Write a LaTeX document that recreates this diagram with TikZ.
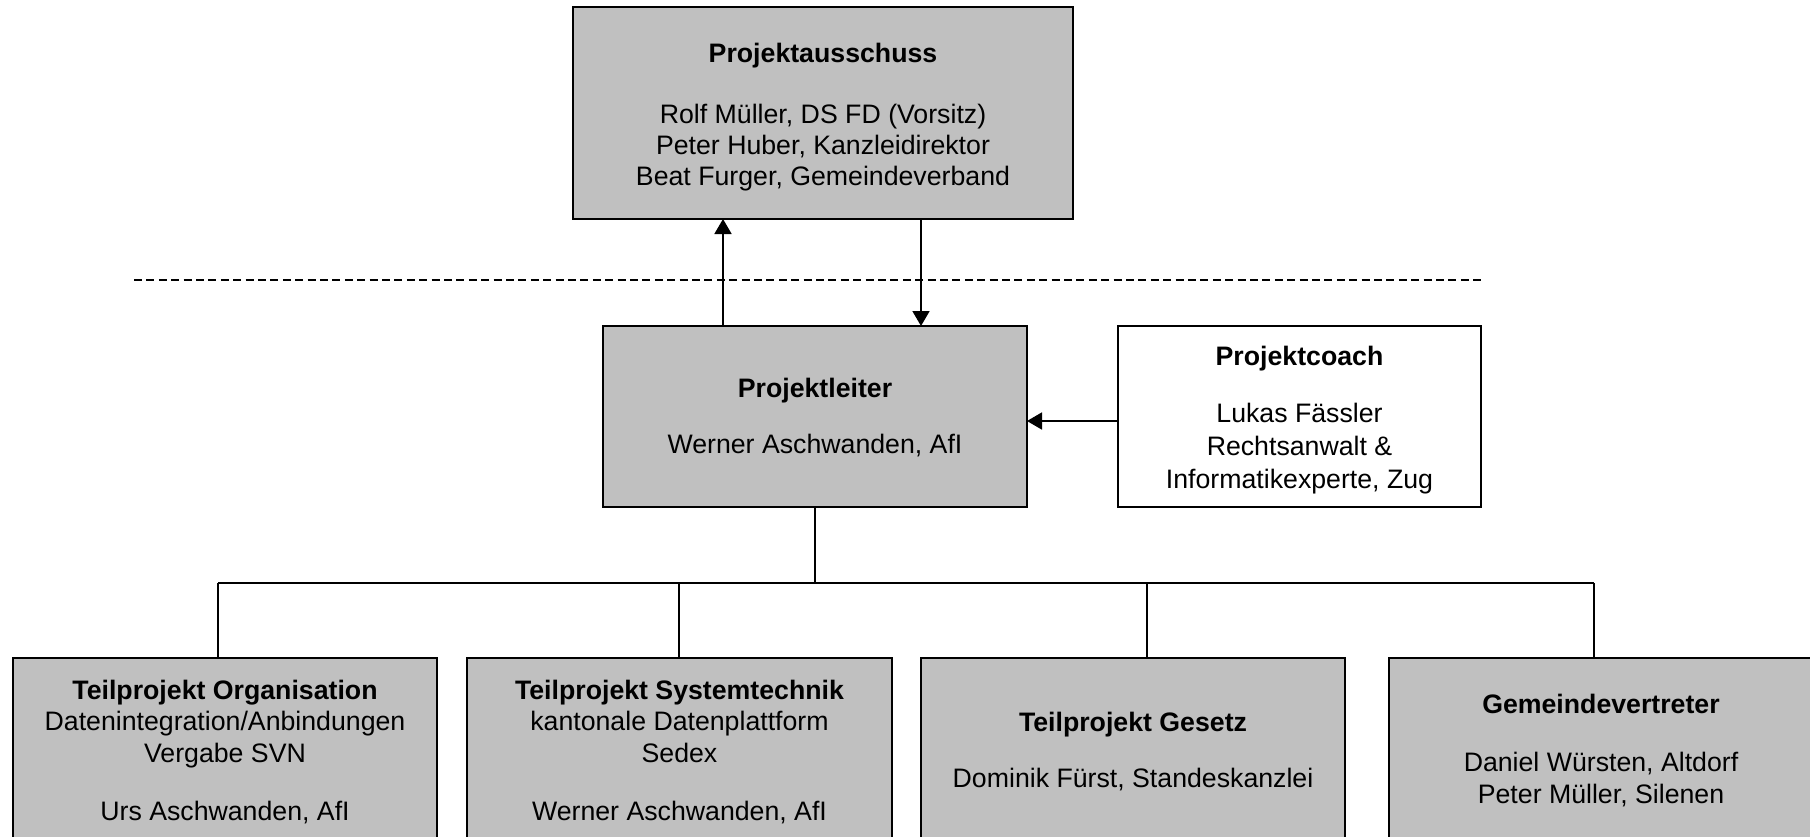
\documentclass[tikz,border=0pt]{standalone}
\usepackage{fontspec}
\setmainfont{Liberation Sans}
\usetikzlibrary{arrows.meta,calc}
\definecolor{boxgray}{HTML}{C0C0C0}
\begin{document}
\begin{tikzpicture}[x=0.5pt,y=-0.5pt,
  orgbox/.style={draw=black, line width=1.1pt, fill=boxgray, inner sep=0pt, outer sep=0pt, rectangle},
  whitebox/.style={orgbox, fill=white},
  txt/.style={anchor=base, inner sep=0pt, font=\fontsize{13.35pt}{15.5pt}\selectfont},
  ttl/.style={txt, font=\fontsize{13.35pt}{15.5pt}\selectfont\bfseries},
  conn/.style={draw=black, line width=0.9pt},
  busline/.style={draw=black, line width=1.2pt},
  arr/.style={conn, -{Triangle[width=8.5pt,length=7.5pt]}},
  sep/.style={draw=black, line width=0.8pt, dash pattern=on 4pt off 2.2pt}
]
\useasboundingbox (0,0) rectangle (1810,836);
\clip (0,0) rectangle (1810,836);

% boxes
\node[orgbox, minimum width=250pt, minimum height=106pt] (pa) at (823,113) {};
\node[orgbox, minimum width=212pt, minimum height=90.5pt] (pl) at (815,416.5) {};
\node[whitebox, minimum width=181.5pt, minimum height=90.5pt] (pc) at (1299.5,416.5) {};
\node[orgbox, minimum width=212pt, minimum height=121pt] (b1) at (225,779) {};
\node[orgbox, minimum width=212.5pt, minimum height=121pt] (b2) at (679.5,779) {};
\node[orgbox, minimum width=212pt, minimum height=121pt] (b3) at (1133,779) {};
\node[orgbox, minimum width=212pt, minimum height=121pt] (b4) at (1601,779) {};

% texts: Projektausschuss
\node[ttl] (pat) at (823,62) {Projektausschuss};
\node[txt] (pa1) at (823,123) {Rolf Müller, DS FD (Vorsitz)};
\node[txt] (pa2) at (823,154) {Peter Huber, Kanzleidirektor};
\node[txt] (pa3) at (823,185) {Beat Furger, Gemeindeverband};

% Projektleiter
\node[ttl] (plt) at (815,397) {Projektleiter};
\node[txt] (pl1) at (815,453) {Werner Aschwanden, AfI};

% Projektcoach
\node[ttl] (pct) at (1299.5,365) {Projektcoach};
\node[txt] (pc1) at (1299.5,422) {Lukas Fässler};
\node[txt] (pc2) at (1299.5,455) {Rechtsanwalt \&};
\node[txt] (pc3) at (1299.5,488) {Informatikexperte, Zug};

% Teilprojekt Organisation
\node[ttl] (b1t) at (225,699) {Teilprojekt Organisation};
\node[txt] (b11) at (225,730) {Datenintegration/Anbindungen};
\node[txt] (b12) at (225,762) {Vergabe SVN};
\node[txt] (b13) at (225,820) {Urs Aschwanden, AfI};

% Teilprojekt Systemtechnik
\node[ttl] (b2t) at (679.5,699) {Teilprojekt Systemtechnik};
\node[txt] (b21) at (679.5,730) {kantonale Datenplattform};
\node[txt] (b22) at (679.5,762) {Sedex};
\node[txt] (b23) at (679.5,820) {Werner Aschwanden, AfI};

% Teilprojekt Gesetz
\node[ttl] (b3t) at (1133,731) {Teilprojekt Gesetz};
\node[txt] (b31) at (1133,787) {Dominik Fürst, Standeskanzlei};

% Gemeindevertreter
\node[ttl] (b4t) at (1601,713) {Gemeindevertreter};
\node[txt] (b41) at (1601,771) {Daniel Würsten, Altdorf};
\node[txt] (b42) at (1601,803) {Peter Müller, Silenen};

% dashed separator
\coordinate (sepL) at (134,280);
\coordinate (sepR) at (1481,280);
\draw[sep] (sepL) -- (sepR);

% arrows between Projektleiter and Projektausschuss
\coordinate (upx) at (723,0);
\coordinate (dnx) at (921,0);
\draw[arr] (pl.north -| upx) -- (pa.south -| upx);
\draw[arr] (pa.south -| dnx) -- (pl.north -| dnx);

% coach to leiter
\coordinate (cy) at (0,421);
\draw[arr] (pc.west |- cy) -- (pl.east |- cy);

% bus
\coordinate (bus) at (815,583);
\coordinate (j1) at (218,583);
\coordinate (j2) at (679,583);
\coordinate (j3) at (1147,583);
\coordinate (j4) at (1594,583);
\draw[conn] (pl.south) -- (bus);
\draw[busline] (j1) -- (j4);
\draw[conn] (j1) -- (j1 |- b1.north);
\draw[conn] (j2) -- (j2 |- b2.north);
\draw[conn] (j3) -- (j3 |- b3.north);
\draw[conn] (j4) -- (j4 |- b4.north);
\end{tikzpicture}
\end{document}
